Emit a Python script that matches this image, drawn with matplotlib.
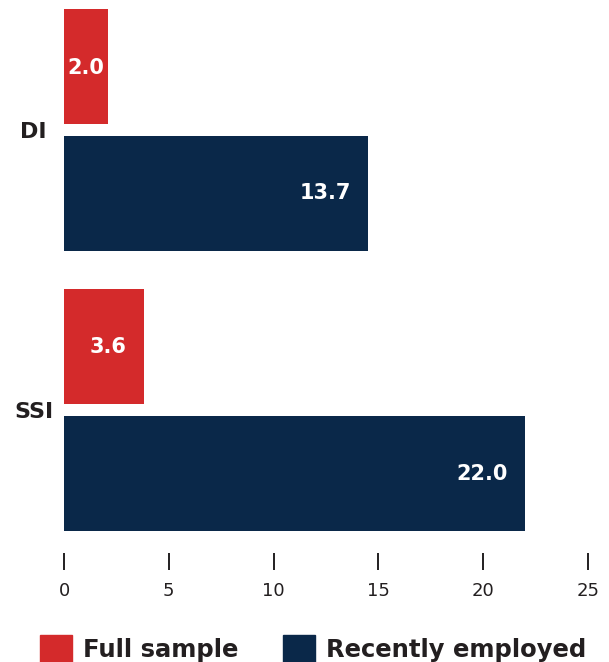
import numpy as np
from matplotlib import pyplot as plt
from matplotlib.patches import Patch

categories = ['DI', 'SSI']
series_names = ['Full sample', 'Recently employed']
# bar lengths as drawn in the picture, and the printed labels
full_sample = [2.1, 3.8]
recently_employed = [14.5, 22.0]
full_labels = ['2.0', '3.6']
recent_labels = ['13.7', '22.0']
xticks = [0, 5, 10, 15, 20, 25]

RED = '#d42a2b'
NAVY = '#0a2849'
INK = '#231f20'

plt.rcParams['font.family'] = ['DejaVu Sans']

fig = plt.figure(figsize=(6.09, 6.62), dpi=100)
ax = fig.add_axes([64 / 609, 1 - 531 / 662, (588 - 64) / 609, (531 - 9) / 662])

# spine moves first, it resets the ticks
for s in ax.spines.values():
    s.set_visible(False)
ax.spines['bottom'].set_position(('outward', 16))

y = np.arange(len(categories))
h = 0.41
off = 0.226
bars_full = ax.barh(y - off, full_sample, height=h, color=RED)
bars_recent = ax.barh(y + off, recently_employed, height=h, color=NAVY)

def label_bars(bars, labels):
    for bar, lab in zip(bars, labels):
        w = bar.get_width()
        yc = bar.get_y() + bar.get_height() / 2
        if w < 3:
            ax.annotate(lab, (w / 2, yc), xytext=(0, -2), textcoords='offset pixels',
                        ha='center', va='center',
                        color='white', fontsize=15, fontweight='bold')
        else:
            ax.annotate(lab, (w, yc), xytext=(-17, 0), textcoords='offset pixels',
                        ha='right', va='center', color='white',
                        fontsize=15, fontweight='bold')

label_bars(bars_full, full_labels)
label_bars(bars_recent, recent_labels)

ax.set_xlim(0, 25)
ax.set_ylim(1.431, -0.431)
ax.set_xticks(xticks)
ax.set_xticklabels([str(t) for t in xticks])
ax.set_yticks(y)
ax.set_yticklabels(categories, fontweight='bold', ha='center')
ax.tick_params(axis='x', length=12.5, width=1.4, color=INK, pad=8,
               labelsize=13, labelcolor=INK)
ax.tick_params(axis='y', length=0, pad=22, labelsize=16, labelcolor=INK)

handles = [Patch(color=RED), Patch(color=NAVY)]
fig.legend(handles, series_names, loc='lower left', bbox_to_anchor=(40 / 609, 0),
           ncol=2, frameon=False, prop={'weight': 'bold', 'size': 17.5},
           handlelength=1.32, handleheight=1.32, handletextpad=0.45,
           columnspacing=1.85, borderpad=0, borderaxespad=0, labelcolor=INK)

fig.savefig('out.png', dpi=100)
